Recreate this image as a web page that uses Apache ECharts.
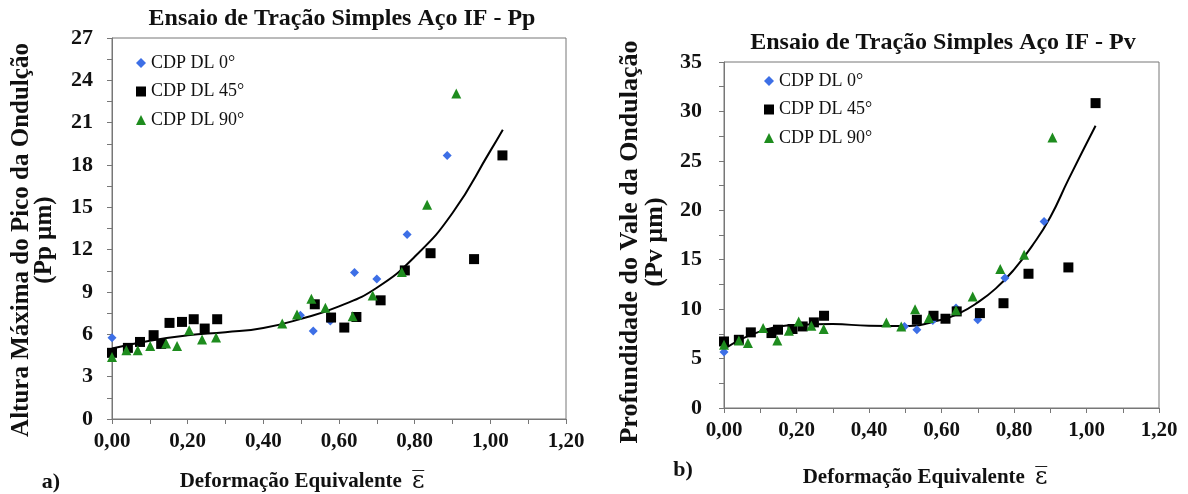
<!DOCTYPE html>
<html>
<head>
<meta charset="utf-8">
<script src="https://cdn.jsdelivr.net/npm/echarts@6/dist/echarts.min.js"></script>
<style>
  html, body { margin: 0; padding: 0; background: #fff; }
  #chart { width: 1188px; height: 494px; }
</style>
</head>
<body>
<div id="chart"></div>
<script>
// Pp (left) - altura máxima do pico
const pp0X = [0, 0.498, 0.532, 0.577, 0.641, 0.70, 0.78, 0.886]
const pp0Y = [5.75, 7.35, 6.24, 6.95, 10.39, 9.92, 13.07, 18.68]
const pp45X = [0, 0.042, 0.074, 0.11, 0.13, 0.152, 0.185, 0.216, 0.245, 0.278, 0.536, 0.579, 0.614, 0.646, 0.71, 0.774, 0.842, 0.957, 1.032]
const pp45Y = [4.69, 5.04, 5.46, 5.94, 5.32, 6.81, 6.88, 7.07, 6.41, 7.07, 8.13, 7.19, 6.48, 7.23, 8.41, 10.53, 11.75, 11.33, 18.68]
const pp90X = [0, 0.038, 0.068, 0.101, 0.143, 0.172, 0.204, 0.238, 0.275, 0.45, 0.489, 0.527, 0.564, 0.636, 0.689, 0.766, 0.833, 0.91]
const pp90Y = [4.4, 4.88, 4.88, 5.18, 5.35, 5.18, 6.29, 5.63, 5.77, 6.76, 7.40, 8.53, 7.89, 7.28, 8.76, 10.41, 15.19, 23.06]
const ppTrendX = [0, 0.1, 0.2, 0.3, 0.4, 0.5, 0.6, 0.7, 0.8, 0.9, 1.0, 1.033]
const ppTrendY = [5.0, 5.55, 5.93, 6.15, 6.45, 7.1, 7.98, 9.3, 11.5, 14.6, 19.0, 20.5]

// Pv (right) - profundidade do vale
const pv0X = [0, 0.498, 0.532, 0.576, 0.64, 0.70, 0.775, 0.883]
const pv0Y = [5.66, 8.25, 7.92, 8.86, 10.11, 8.93, 13.14, 18.87]
const pv45X = [0, 0.041, 0.074, 0.131, 0.149, 0.189, 0.217, 0.248, 0.276, 0.532, 0.578, 0.611, 0.642, 0.706, 0.771, 0.84, 0.95, 1.025]
const pv45Y = [6.73, 6.9, 7.65, 7.58, 7.92, 7.99, 8.25, 8.66, 9.33, 8.93, 9.33, 9.03, 9.77, 9.6, 10.6, 13.58, 14.22, 30.84]
const pv90X = [0, 0.041, 0.066, 0.108, 0.147, 0.179, 0.206, 0.241, 0.275, 0.448, 0.489, 0.527, 0.565, 0.64, 0.686, 0.762, 0.828, 0.906]
const pv90Y = [6.4, 6.84, 6.57, 8.09, 6.84, 7.82, 8.76, 8.32, 7.99, 8.66, 8.25, 10.0, 9.1, 9.9, 11.29, 14.05, 15.5, 27.36]
const pvTrendX = [0, 0.1, 0.2, 0.3, 0.4, 0.5, 0.6, 0.65, 0.7, 0.75, 0.8, 0.85, 0.9, 0.95, 1.025]
const pvTrendY = [5.96, 7.75, 8.39, 8.49, 8.32, 8.3, 8.93, 9.6, 10.68, 12.1, 14.0, 16.4, 19.3, 23.1, 28.55]

const names = ['CDP DL 0°', 'CDP DL 45°', 'CDP DL 90°']

const serif = 'Liberation Serif'
const axisColor = '#777'
const blue = '#3d6fe6'
const green = '#1e8c1e'

const pairs = (xs, ys) => xs.map((x, i) => [x, ys[i]])

const xAxisOf = (gridIndex) => ({
  type: 'value',
  gridIndex,
  min: 0,
  max: 1.2,
  interval: 0.2,
  splitLine: { show: false },
  axisLine: { show: true, lineStyle: { color: axisColor } },
  axisTick: { show: true, length: 5, lineStyle: { color: axisColor } },
  minorTick: { show: true, splitNumber: 2, length: 5, lineStyle: { color: axisColor } },
  axisLabel: {
    margin: 12,
    fontFamily: serif,
    fontWeight: 'bold',
    fontSize: 21,
    color: '#111',
    formatter: v => v.toFixed(2).replace('.', ',')
  }
})

const yAxisOf = (gridIndex, max, interval, margin) => ({
  type: 'value',
  gridIndex,
  min: 0,
  max,
  interval,
  splitLine: { show: false },
  axisLine: { show: true, lineStyle: { color: axisColor } },
  axisTick: { show: true, length: 5, lineStyle: { color: axisColor } },
  minorTick: { show: true, splitNumber: 2, length: 5, lineStyle: { color: axisColor } },
  axisLabel: { margin, fontFamily: serif, fontWeight: 'bold', fontSize: 22, color: '#111' }
})

const scatter = (name, idx, data, symbol, size, color) => ({
  name,
  type: 'scatter',
  xAxisIndex: idx,
  yAxisIndex: idx,
  data,
  symbol,
  symbolSize: size,
  itemStyle: { color, opacity: 1 },
  z: 3
})

const trend = (idx, data) => ({
  name: 'tendência',
  type: 'line',
  xAxisIndex: idx,
  yAxisIndex: idx,
  data,
  smooth: true,
  showSymbol: false,
  lineStyle: { color: '#000', width: 2 },
  z: 2
})

const legendOf = (left, top) => ({
  data: names,
  orient: 'vertical',
  left,
  top,
  padding: 0,
  itemGap: 10.5,
  itemWidth: 10,
  itemHeight: 10,
  textStyle: { fontFamily: serif, fontSize: 18, color: '#111', lineHeight: 18 }
})

const boldText = (x, y, text, size, rotation) => ({
  type: 'text', x, y, rotation: rotation || 0,
  style: { text, font: `bold ${size}px "Liberation Serif"`, fill: '#111', align: 'center', verticalAlign: 'middle' }
})

const xName = (x, y) => ({
  type: 'text', x, y,
  style: {
    text: '{b|Deformação Equivalente}   {e|ε\u0305}',
    align: 'center', verticalAlign: 'middle',
    rich: {
      b: { font: 'bold 21px "Liberation Serif"', fill: '#111' },
      e: { font: '24px "DejaVu Serif"', fill: '#111' }
    }
  }
})

const chart = echarts.init(document.getElementById('chart'))

chart.setOption({
  backgroundColor: '#fff',
  animation: false,
  title: [
    {
      text: 'Ensaio de Tração Simples Aço IF - Pp',
      left: 337, top: 2, textAlign: 'center',
      textStyle: { fontFamily: serif, fontWeight: 'bold', fontSize: 24, color: '#111' }
    },
    {
      text: 'Ensaio de Tração Simples Aço IF - Pv',
      left: 938, top: 26, textAlign: 'center',
      textStyle: { fontFamily: serif, fontWeight: 'bold', fontSize: 24, color: '#111' }
    }
  ],
  legend: [legendOf(136, 54), legendOf(764, 72)],
  grid: [
    { left: 112, right: 622, top: 38, bottom: 75, show: true, borderColor: axisColor, borderWidth: 1 },
    { left: 724, right: 29, top: 62, bottom: 86, show: true, borderColor: axisColor, borderWidth: 1 }
  ],
  xAxis: [xAxisOf(0), xAxisOf(1)],
  yAxis: [yAxisOf(0, 27, 3, 19), yAxisOf(1, 35, 5, 22)],
  graphic: [
    boldText(22, 240, 'Altura Máxima do Pico da Ondulção', 25, Math.PI / 2),
    boldText(45, 240, '(Pp µm)', 25, Math.PI / 2),
    boldText(630, 242, 'Profundidade do Vale da Ondulação', 26, Math.PI / 2),
    boldText(655, 242, '(Pv µm)', 26, Math.PI / 2),
    boldText(51, 482, 'a)', 22),
    boldText(683, 470, 'b)', 22),
    xName(302, 482),
    xName(925, 478)
  ],
  series: [
    trend(0, pairs(ppTrendX, ppTrendY)),
    scatter(names[0], 0, pairs(pp0X, pp0Y), 'diamond', 9, blue),
    scatter(names[1], 0, pairs(pp45X, pp45Y), 'rect', 10, '#000'),
    scatter(names[2], 0, pairs(pp90X, pp90Y), 'triangle', 10, green),
    trend(1, pairs(pvTrendX, pvTrendY)),
    scatter(names[0], 1, pairs(pv0X, pv0Y), 'diamond', 9, blue),
    scatter(names[1], 1, pairs(pv45X, pv45Y), 'rect', 10, '#000'),
    scatter(names[2], 1, pairs(pv90X, pv90Y), 'triangle', 10, green)
  ]
})
</script>
</body>
</html>
